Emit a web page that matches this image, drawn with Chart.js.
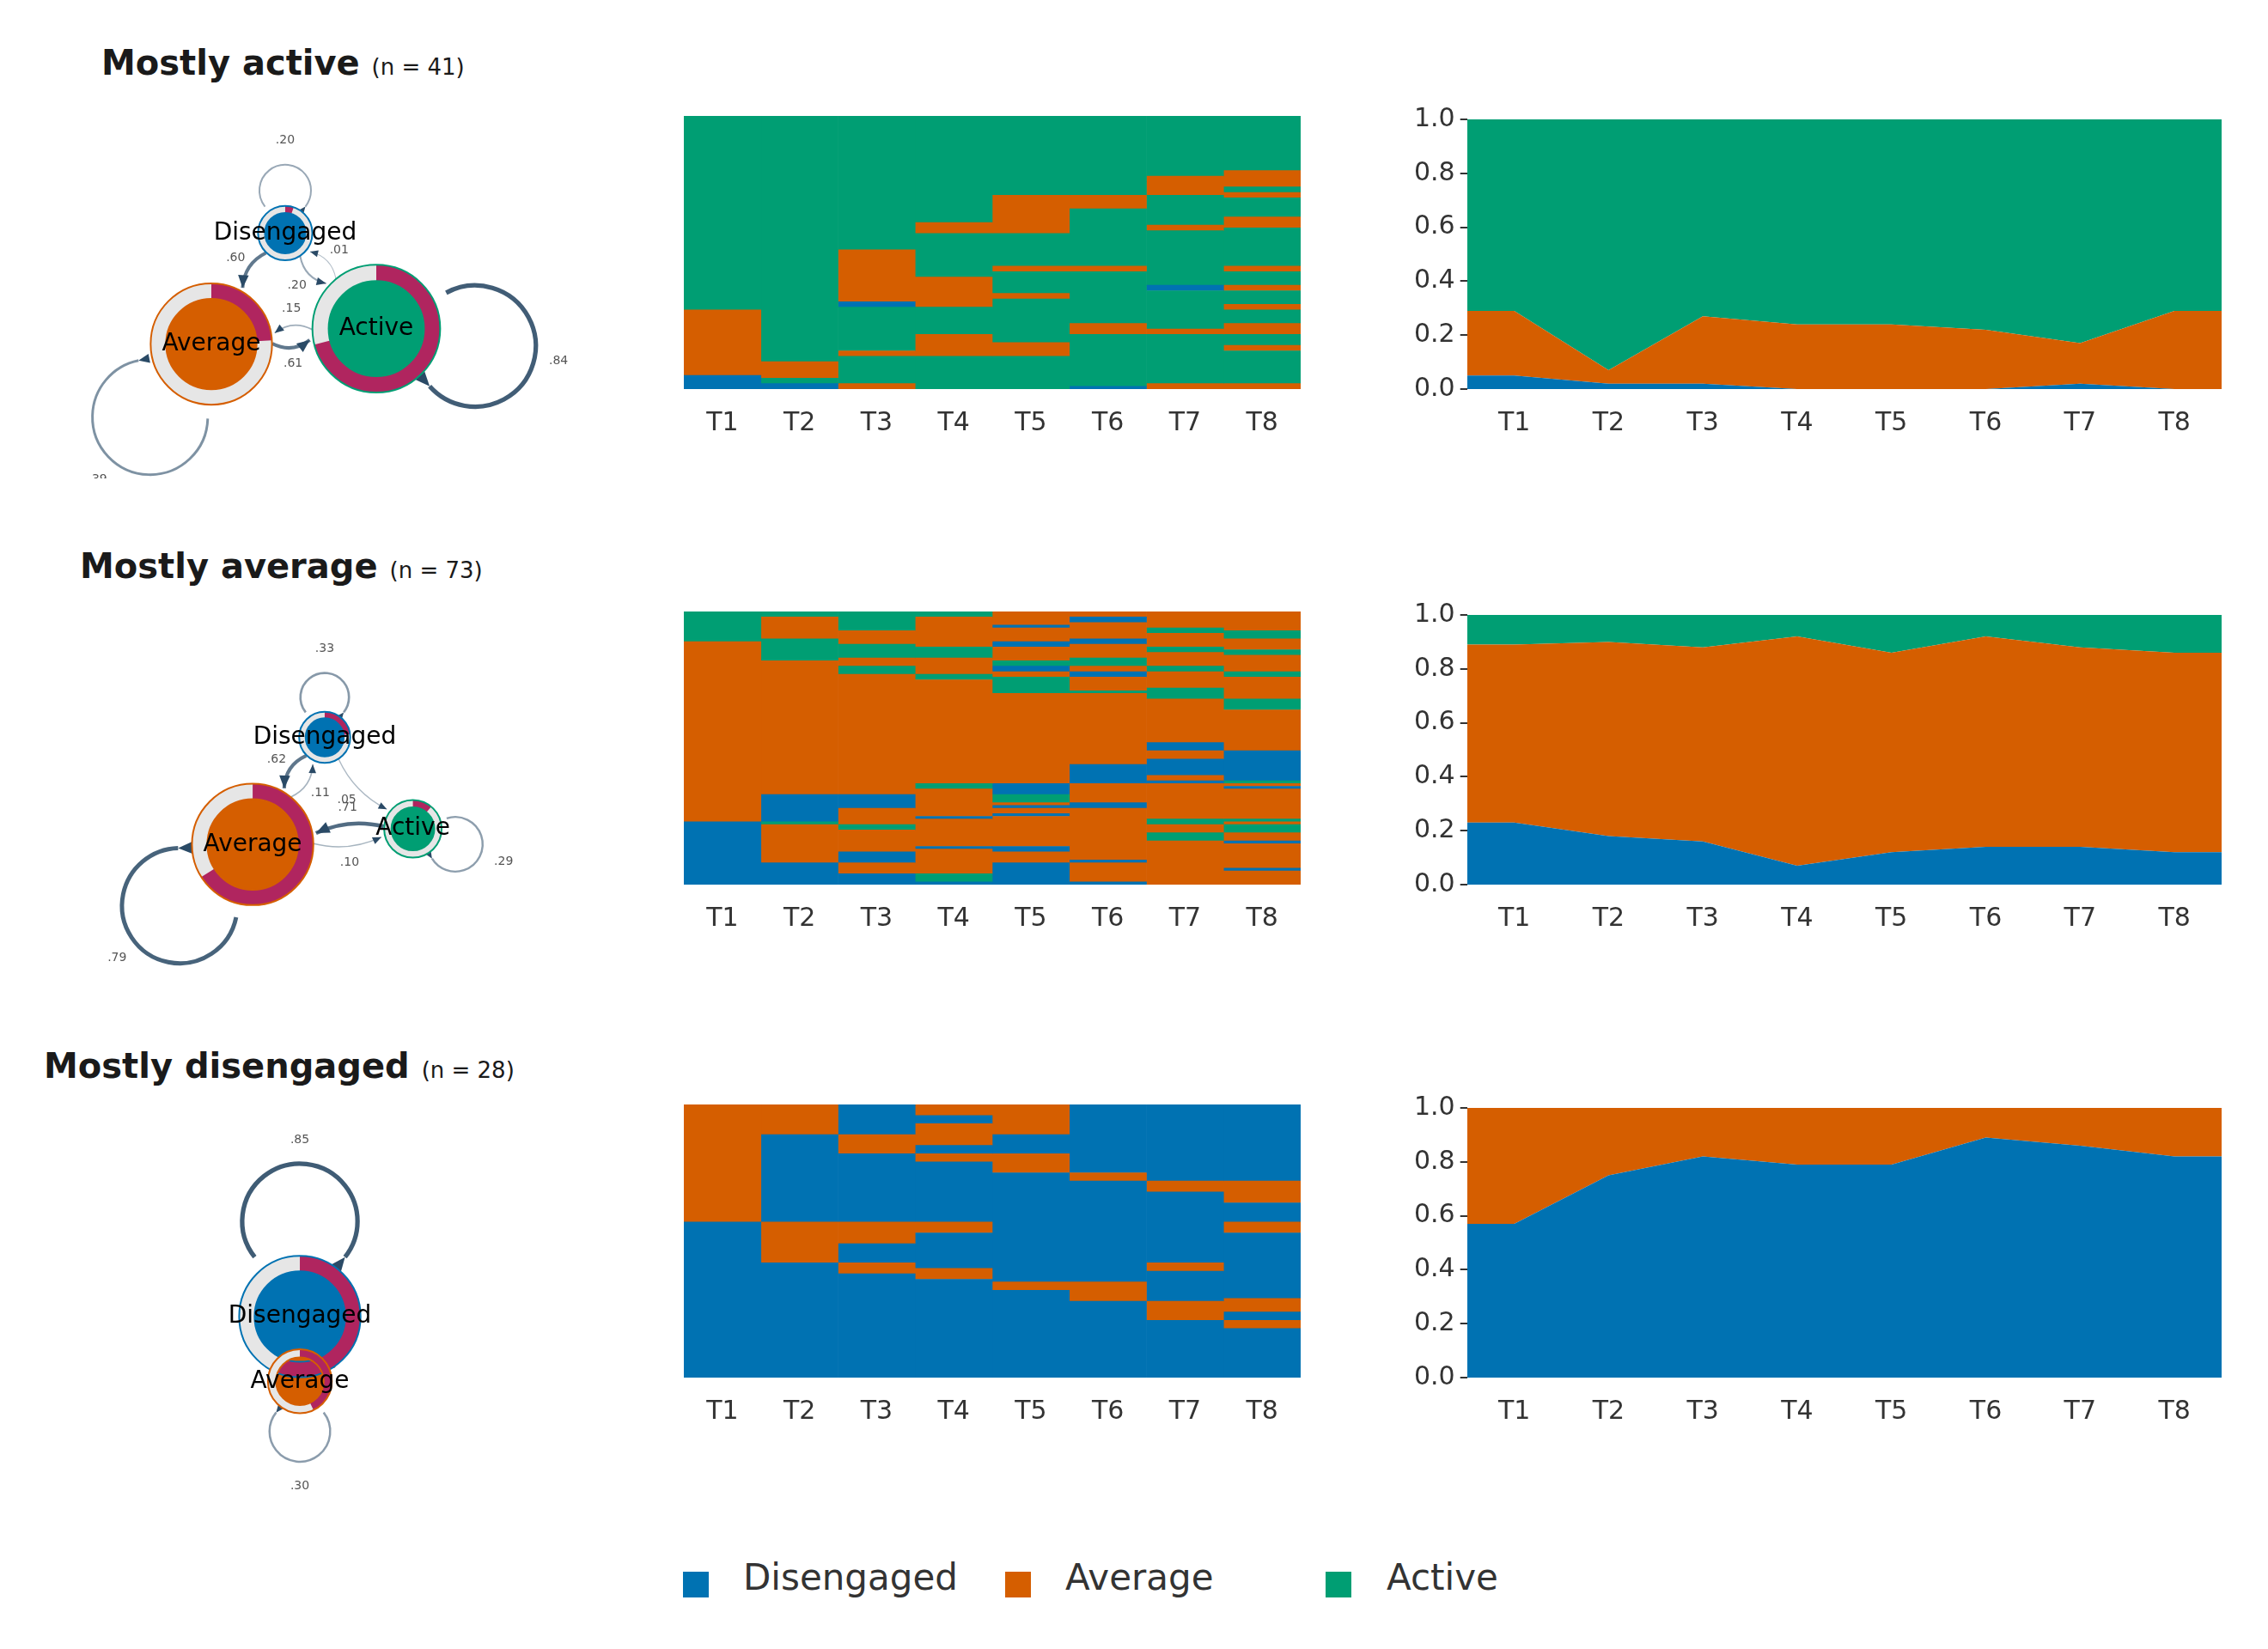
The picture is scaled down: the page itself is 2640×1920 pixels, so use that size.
<!DOCTYPE html>
<html>
<head>
<meta charset="utf-8">
<script src="https://cdn.jsdelivr.net/npm/chart.js@4.4.1/dist/chart.umd.min.js"></script>
<style>
  body { margin: 0; background: #fff; font-family: "DejaVu Sans", sans-serif; color: #1a1a1a; }
  #page { position: relative; width: 2640px; height: 1920px; overflow: hidden; }
  canvas { position: absolute; }
  .title { position: absolute; font-weight: bold; font-size: 40px; white-space: nowrap; }
  .title span { font-weight: normal; font-size: 26px; }
  .legend { position: absolute; top: 1812px; font-size: 42px; color: #333; white-space: nowrap; }
  .legend i { position: absolute; top: 18px; width: 30px; height: 30px; }
</style>
</head>
<body>
<div id="page"></div>
<script>
// =================== DATA =================== //
const states = ['Disengaged', 'Average', 'Active'];
const stateColors = ['#0072B2', '#D55E00', '#009E73'];
const timeLabels = ['T1', 'T2', 'T3', 'T4', 'T5', 'T6', 'T7', 'T8'];
const clusterNames = ['Mostly active', 'Mostly average', 'Mostly disengaged'];
const clusterN = [41, 73, 28];

// state distribution plots: cumulative shares (Disengaged, Disengaged+Average)
const activeDis = [0.05, 0.02, 0.02, 0.00, 0.00, 0.00, 0.02, 0.00];
const activeDisAvg = [0.29, 0.07, 0.27, 0.24, 0.24, 0.22, 0.17, 0.29];
const averageDis = [0.23, 0.18, 0.16, 0.07, 0.12, 0.14, 0.14, 0.12];
const averageDisAvg = [0.89, 0.90, 0.88, 0.92, 0.86, 0.92, 0.88, 0.86];
const disengDis = [0.57, 0.75, 0.82, 0.79, 0.79, 0.89, 0.86, 0.82];
const disengDisAvg = [1, 1, 1, 1, 1, 1, 1, 1];

// sequence index plots: per time point, [state, top of run] from bottom (0 = D, 1 = A, 2 = Ac)
const seqActive = [
  [[0, .05], [1, .29], [2, 1]],
  [[0, .02], [2, .04], [1, .10], [2, 1]],
  [[1, .02], [2, .12], [1, .14], [2, .30], [0, .32], [1, .51], [2, 1]],
  [[2, .12], [1, .20], [2, .30], [1, .41], [2, .57], [1, .61], [2, 1]],
  [[2, .12], [1, .17], [2, .33], [1, .35], [2, .43], [1, .45], [2, .57], [1, .71], [2, 1]],
  [[0, .01], [2, .20], [1, .24], [2, .43], [1, .45], [2, .66], [1, .71], [2, .76], [1, .76], [2, 1]],
  [[1, .02], [2, .20], [1, .22], [2, .36], [0, .38], [2, .58], [1, .60], [2, .71], [1, .78], [2, 1]],
  [[1, .02], [2, .14], [1, .16], [2, .20], [1, .24], [2, .29], [1, .31], [2, .36], [1, .38], [2, .43], [1, .45], [2, .59], [1, .63], [2, .70], [1, .72], [2, .74], [1, .80], [2, 1]]
];
const seqAverage = [
  [[0, .23], [1, .89], [2, 1]],
  [[0, .08], [1, .22], [2, .23], [0, .33], [1, .82], [2, .90], [1, .98], [2, 1]],
  [[0, .04], [1, .08], [0, .12], [1, .20], [2, .22], [1, .28], [0, .33], [1, .77], [2, .80], [1, .83], [2, .88], [1, .93], [2, 1]],
  [[0, .01], [2, .04], [1, .13], [0, .14], [1, .24], [0, .25], [1, .35], [2, .37], [1, .75], [2, .77], [1, .83], [2, .87], [1, .98], [2, 1]],
  [[0, .08], [1, .12], [0, .14], [1, .25], [0, .26], [1, .28], [0, .29], [1, .30], [2, .33], [0, .37], [1, .70], [2, .76], [1, .78], [0, .80], [2, .82], [1, .87], [0, .89], [1, .94], [0, .95], [1, 1]],
  [[0, .01], [1, .08], [0, .09], [1, .28], [0, .30], [1, .37], [0, .44], [1, .70], [2, .71], [1, .76], [0, .78], [1, .80], [2, .83], [1, .88], [0, .90], [1, .96], [0, .98], [1, 1]],
  [[1, .16], [2, .19], [1, .22], [2, .24], [1, .37], [0, .38], [1, .40], [0, .46], [1, .49], [0, .52], [1, .68], [2, .72], [1, .78], [2, .80], [1, .85], [2, .87], [1, .92], [2, .94], [1, 1]],
  [[1, .05], [0, .06], [1, .15], [0, .16], [1, .19], [2, .22], [1, .23], [2, .24], [1, .35], [0, .36], [1, .37], [2, .38], [0, .49], [1, .64], [2, .68], [1, .76], [2, .78], [1, .84], [2, .86], [1, .90], [2, .93], [1, 1]]
];
const seqDiseng = [
  [[0, .57], [1, 1]],
  [[0, .42], [1, .57], [0, .89], [1, 1]],
  [[0, .38], [1, .42], [0, .49], [1, .57], [0, .82], [1, .89], [0, 1]],
  [[0, .36], [1, .40], [0, .53], [1, .57], [0, .79], [1, .82], [0, .85], [1, .93], [0, .96], [1, 1]],
  [[0, .32], [1, .35], [0, .75], [1, .82], [0, .89], [1, 1]],
  [[0, .28], [1, .35], [0, .72], [1, .75], [0, 1]],
  [[0, .21], [1, .28], [0, .39], [1, .42], [0, .68], [1, .72], [0, 1]],
  [[0, .18], [1, .21], [0, .24], [1, .29], [0, .53], [1, .57], [0, .64], [1, .72], [0, 1]]
];

// transition networks: node layout (reference units), radius, edges [from, to, weight]
const netActiveNodes = [[0, 193, 150, 17], [1, 133, 251, 38], [2, 267, 237, 40]];
const netActiveEdges = [[0, 0, .20], [0, 1, .60], [0, 2, .20], [1, 1, .39], [1, 2, .61], [2, 0, .01], [2, 1, .15], [2, 2, .84]];
const netActiveLoops = [-90, 130, 10];
const netAverageNodes = [[0, 225, 500, 16], [1, 167, 596, 38], [2, 296, 582, 18]];
const netAverageEdges = [[0, 0, .33], [0, 1, .62], [0, 2, .05], [1, 0, .11], [1, 1, .79], [1, 2, .10], [2, 1, .71], [2, 2, .29]];
const netAverageLoops = [-90, 140, 20];
const netDisengNodes = [[0, 205, 908, 38], [1, 205, 966, 20]];
const netDisengEdges = [[0, 0, .85], [0, 1, .15], [1, 0, .70], [1, 1, .30]];
const netDisengLoops = [-90, 90, 0];

// =================== LAYOUT =================== //
const S = 1.69;
const page = document.getElementById('page');
const rowPlotTops = [135, 712, 1286];
const netYRanges = [[60, 330], [400, 670], [770, 1040]];
const titlePos = [[118, 50], [93, 636], [51, 1218]];

function addCanvas(left, top, w, h) {
  const c = document.createElement('canvas');
  c.width = w; c.height = h;
  c.style.left = left + 'px'; c.style.top = top + 'px';
  c.style.width = w + 'px'; c.style.height = h + 'px';
  page.appendChild(c);
  return c;
}

Chart.defaults.font.family = '"DejaVu Sans", sans-serif';
Chart.defaults.color = '#333';

const xTickOpts = { color: '#333', font: { size: 30 }, padding: 14 };

// =================== SEQUENCE INDEX PLOT =================== //
function drawSequence(row, seq) {
  const datasets = [];
  seq.forEach((col, ci) => {
    let prev = 0;
    col.forEach(([st, top]) => {
      const data = timeLabels.map(() => null);
      data[ci] = top - prev;
      prev = top;
      datasets.push({ data, backgroundColor: stateColors[st], borderWidth: 0,
        barPercentage: 1, categoryPercentage: 1, stack: 's' });
    });
  });
  const c = addCanvas(760, rowPlotTops[row] - 10, 780, 400);
  new Chart(c, {
    type: 'bar',
    data: { labels: timeLabels, datasets },
    options: {
      responsive: false, animation: false, devicePixelRatio: 1,
      layout: { padding: { left: 36, right: 26, top: 10, bottom: 0 } },
      plugins: { legend: { display: false }, tooltip: { enabled: false } },
      scales: {
        x: { stacked: true, grid: { display: false }, border: { display: false }, ticks: xTickOpts },
        y: { stacked: true, min: 0, max: 1, display: false }
      }
    }
  });
}

// =================== STATE DISTRIBUTION PLOT =================== //
function drawDistribution(row, dis, disAvg) {
  const ext = v => [{ x: 0.5, y: v[0] }, ...v.map((y, i) => ({ x: i + 1, y })), { x: 8.5, y: v[v.length - 1] }];
  const avg = disAvg.map((v, i) => v - dis[i]);
  const act = disAvg.map(v => 1 - v);
  const series = [dis, avg, act];
  const c = addCanvas(1640, rowPlotTops[row] - 20, 960, 410);
  new Chart(c, {
    type: 'line',
    data: {
      datasets: series.map((s, i) => ({
        data: ext(s), backgroundColor: stateColors[i], borderWidth: 0, pointRadius: 0,
        fill: i === 0 ? 'origin' : '-1', tension: 0
      }))
    },
    options: {
      responsive: false, animation: false, devicePixelRatio: 1,
      layout: { padding: { left: 0, right: 14, top: 20, bottom: 0 } },
      plugins: { legend: { display: false }, tooltip: { enabled: false } },
      scales: {
        x: { type: 'linear', min: 0.5, max: 8.5, grid: { display: false }, border: { display: false },
          afterBuildTicks: ax => { ax.ticks = timeLabels.map((_, i) => ({ value: i + 1 })); },
          ticks: { ...xTickOpts, callback: v => timeLabels[v - 1] } },
        y: { stacked: true, min: 0, max: 1, border: { display: false },
          grid: { drawOnChartArea: false, drawTicks: true, tickLength: 8, color: '#333', lineWidth: 2 },
          ticks: { stepSize: 0.2, color: '#333', font: { size: 30 }, padding: 6, callback: v => v.toFixed(1) } }
      }
    }
  });
}

// =================== TRANSITION NETWORK =================== //
const edgeColor = '#2a4a66';
const ringPink = '#B0255F';

function drawNetwork(row, nodes, edges, loopAngles, initShares) {
  const [y0, y1] = netYRanges[row];
  const c = addCanvas(0, y0 * S, Math.round(430 * S), Math.round((y1 - y0) * S));
  const netPlugin = {
    id: 'net',
    beforeDatasetsDraw(chart) {
      const ctx = chart.ctx, xs = chart.scales.x, ys = chart.scales.y;
      const pos = {};
      nodes.forEach(([st, x, y, r]) => { pos[st] = { x: xs.getPixelForValue(x), y: ys.getPixelForValue(y), r: r * S * 1.1 }; });
      ctx.save();
      edges.forEach(([a, b, w]) => {
        const lw = 1 + w * 5;
        ctx.strokeStyle = edgeColor; ctx.fillStyle = edgeColor;
        ctx.globalAlpha = 0.35 + 0.65 * w; ctx.lineWidth = lw;
        const p = pos[a];
        if (a === b) {
          const ang = loopAngles[a] * Math.PI / 180;
          const lr = p.r * 0.95;
          const cx = p.x + Math.cos(ang) * (p.r + lr * 0.6), cy = p.y + Math.sin(ang) * (p.r + lr * 0.6);
          ctx.beginPath(); ctx.arc(cx, cy, lr, ang + Math.PI + 0.9, ang + Math.PI - 0.9 + 2 * Math.PI); ctx.stroke();
          const ea = ang + Math.PI - 0.9;
          const ex = cx + Math.cos(ea) * lr, ey = cy + Math.sin(ea) * lr;
          arrowHead(ctx, ex, ey, ea - Math.PI / 2, 8 + lw * 2);
          label(ctx, w, cx + Math.cos(ang) * (lr + 28), cy + Math.sin(ang) * (lr + 28));
        } else {
          const q = pos[b];
          const dx = q.x - p.x, dy = q.y - p.y, d = Math.hypot(dx, dy);
          const nx = -dy / d, ny = dx / d;
          const sx = p.x + dx / d * p.r + nx * 6, sy = p.y + dy / d * p.r + ny * 6;
          const ex = q.x - dx / d * (q.r + 4) + nx * 6, ey = q.y - dy / d * (q.r + 4) + ny * 6;
          const mx = (sx + ex) / 2 + nx * 14, my = (sy + ey) / 2 + ny * 14;
          ctx.beginPath(); ctx.moveTo(sx, sy); ctx.quadraticCurveTo(mx, my, ex, ey); ctx.stroke();
          arrowHead(ctx, ex, ey, Math.atan2(ey - my, ex - mx), 8 + lw * 2);
          label(ctx, w, (sx + ex) / 2 + nx * 26, (sy + ey) / 2 + ny * 26);
        }
      });
      ctx.restore();
    },
    afterDatasetsDraw(chart) {
      const ctx = chart.ctx, xs = chart.scales.x, ys = chart.scales.y;
      ctx.save();
      nodes.forEach(([st, x, y, r]) => {
        const px = xs.getPixelForValue(x), py = ys.getPixelForValue(y), R = r * S * 1.1;
        const inner = r * S * 0.82;
        ctx.lineWidth = R - inner;
        const rm = (R + inner) / 2;
        ctx.strokeStyle = '#e6e6e6';
        ctx.beginPath(); ctx.arc(px, py, rm, 0, 2 * Math.PI); ctx.stroke();
        ctx.strokeStyle = ringPink;
        ctx.beginPath(); ctx.arc(px, py, rm, -Math.PI / 2, -Math.PI / 2 + 2 * Math.PI * initShares[st]); ctx.stroke();
        ctx.lineWidth = 2; ctx.strokeStyle = stateColors[st];
        ctx.beginPath(); ctx.arc(px, py, R, 0, 2 * Math.PI); ctx.stroke();
        ctx.beginPath(); ctx.arc(px, py, inner, 0, 2 * Math.PI); ctx.stroke();
        ctx.fillStyle = '#000'; ctx.font = '28px "DejaVu Sans", sans-serif';
        ctx.textAlign = 'center'; ctx.textBaseline = 'middle';
        ctx.fillText(states[st], px, py);
      });
      ctx.restore();
    }
  };
  new Chart(c, {
    type: 'bubble',
    data: { datasets: [{
      data: nodes.map(([st, x, y, r]) => ({ x, y, r: r * S * 0.82 })),
      backgroundColor: nodes.map(n => stateColors[n[0]]), borderWidth: 0
    }] },
    options: {
      responsive: false, animation: false, devicePixelRatio: 1,
      layout: { padding: 0 },
      plugins: { legend: { display: false }, tooltip: { enabled: false } },
      scales: { x: { min: 0, max: 430, display: false }, y: { min: y0, max: y1, reverse: true, display: false } }
    },
    plugins: [netPlugin]
  });
}

function arrowHead(ctx, x, y, ang, size) {
  ctx.save(); ctx.globalAlpha = 1;
  ctx.beginPath();
  ctx.moveTo(x, y);
  ctx.lineTo(x - Math.cos(ang - 0.4) * size, y - Math.sin(ang - 0.4) * size);
  ctx.lineTo(x - Math.cos(ang + 0.4) * size, y - Math.sin(ang + 0.4) * size);
  ctx.closePath(); ctx.fill(); ctx.restore();
}

function label(ctx, w, x, y) {
  ctx.save(); ctx.globalAlpha = 1;
  ctx.fillStyle = '#555'; ctx.font = '14px "DejaVu Sans", sans-serif';
  ctx.textAlign = 'center'; ctx.textBaseline = 'middle';
  ctx.fillText(w.toFixed(2).replace(/^0/, ''), x, y);
  ctx.restore();
}

// =================== BUILD PAGE =================== //
const seqs = [seqActive, seqAverage, seqDiseng];
const disArr = [activeDis, averageDis, disengDis];
const disAvgArr = [activeDisAvg, averageDisAvg, disengDisAvg];
const netNodes = [netActiveNodes, netAverageNodes, netDisengNodes];
const netEdges = [netActiveEdges, netAverageEdges, netDisengEdges];
const netLoops = [netActiveLoops, netAverageLoops, netDisengLoops];

clusterNames.forEach((name, i) => {
  const t = document.createElement('div');
  t.className = 'title';
  t.style.left = titlePos[i][0] + 'px'; t.style.top = titlePos[i][1] + 'px';
  t.innerHTML = name + ' <span>(n = ' + clusterN[i] + ')</span>';
  page.appendChild(t);
  const init = [disArr[i][0], disAvgArr[i][0] - disArr[i][0], 1 - disAvgArr[i][0]];
  drawNetwork(i, netNodes[i], netEdges[i], netLoops[i], init);
  drawSequence(i, seqs[i]);
  drawDistribution(i, disArr[i], disAvgArr[i]);
});

const legendX = [[795, 865], [1170, 1240], [1543, 1614]];
states.forEach((s, i) => {
  const d = document.createElement('div');
  d.className = 'legend';
  d.style.left = legendX[i][0] + 'px';
  d.innerHTML = '<i style="left:0;background:' + stateColors[i] + '"></i><span style="margin-left:' + (legendX[i][1] - legendX[i][0]) + 'px">' + s + '</span>';
  page.appendChild(d);
});
</script>
</body>
</html>
